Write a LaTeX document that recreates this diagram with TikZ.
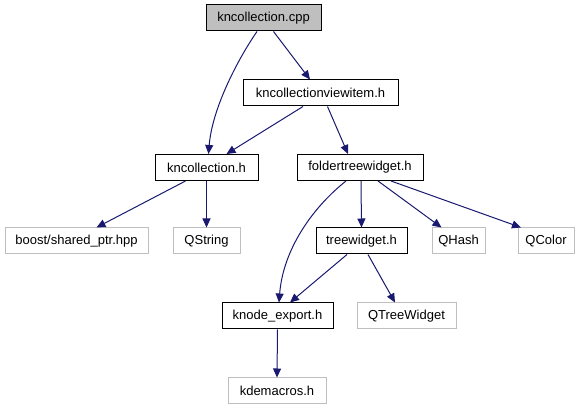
\documentclass[tikz,border=0pt]{standalone}
\usepackage{fontspec}
\setmainfont{Liberation Sans}
\usetikzlibrary{arrows.meta}
\definecolor{edgecol}{HTML}{191970}
\definecolor{extgray}{HTML}{BFBFBF}
\tikzset{
  x=1pt,y=-1pt,
  box/.style={draw=black,fill=white,line width=1pt,minimum height=26pt,inner sep=0pt,font=\fontsize{13}{15}\selectfont},
  extbox/.style={box,draw=extgray},
  cppbox/.style={box,fill=extgray},
  edge/.style={draw=edgecol,line width=1pt,-{Triangle[length=9pt,width=8pt]}}
}
\begin{document}
\begin{tikzpicture}
\useasboundingbox (0,0) rectangle (587,411);
\node[cppbox,minimum width=115pt] (cpp) at (263.5,18) {kncollection.cpp};
\node[box,minimum width=155pt] (viewitem) at (320.5,93) {kncollectionviewitem.h};
\node[box,minimum width=103pt] (knh) at (206.5,167.5) {kncollection.h};
\node[box,minimum width=126pt] (ftw) at (360,167.5) {foldertreewidget.h};
\node[extbox,minimum width=143pt] (boost) at (76.5,241) {boost/shared\_ptr.hpp};
\node[extbox,minimum width=67pt] (qstring) at (206.5,241) {QString};
\node[box,minimum width=91pt] (tw) at (361.5,241) {treewidget.h};
\node[extbox,minimum width=53pt] (qhash) at (458.5,241) {QHash};
\node[extbox,minimum width=56pt] (qcolor) at (546,241) {QColor};
\node[box,minimum width=111pt] (ke) at (277.5,316) {knode\_export.h};
\node[extbox,minimum width=99pt] (qtw) at (406.5,316) {QTreeWidget};
\node[extbox,minimum width=98pt] (kdm) at (277,391) {kdemacros.h};

\draw[edge] ([xshift=-6.5pt]cpp.south) .. controls (236,62) and (212,110) .. ([xshift=2pt]knh.north);
\draw[edge] ([xshift=10pt]cpp.south) -- ([xshift=-10.5pt]viewitem.north);
\draw[edge] ([xshift=-17.5pt]viewitem.south) -- ([xshift=20pt]knh.north);
\draw[edge] ([xshift=7pt]viewitem.south) -- ([xshift=-12pt]ftw.north);
\draw[edge] ([xshift=-21pt]knh.south) -- ([xshift=20pt]boost.north);
\draw[edge] (knh.south) -- (qstring.north);
\draw[edge] ([xshift=-14pt]ftw.south) .. controls (312,208) and (283,250) .. ([xshift=1.5pt]ke.north);
\draw[edge] ([xshift=1pt]ftw.south) -- (tw.north);
\draw[edge] ([xshift=18pt]ftw.south) -- ([xshift=-17pt]qhash.north);
\draw[edge] ([xshift=31pt]ftw.south) -- ([xshift=-25pt]qcolor.north);
\draw[edge] ([xshift=-14.5pt]tw.south) -- ([xshift=12.5pt]ke.north);
\draw[edge] ([xshift=6.5pt]tw.south) -- ([xshift=-11.5pt]qtw.north);
\draw[edge] (ke.south) -- (kdm.north);
\end{tikzpicture}
\end{document}
